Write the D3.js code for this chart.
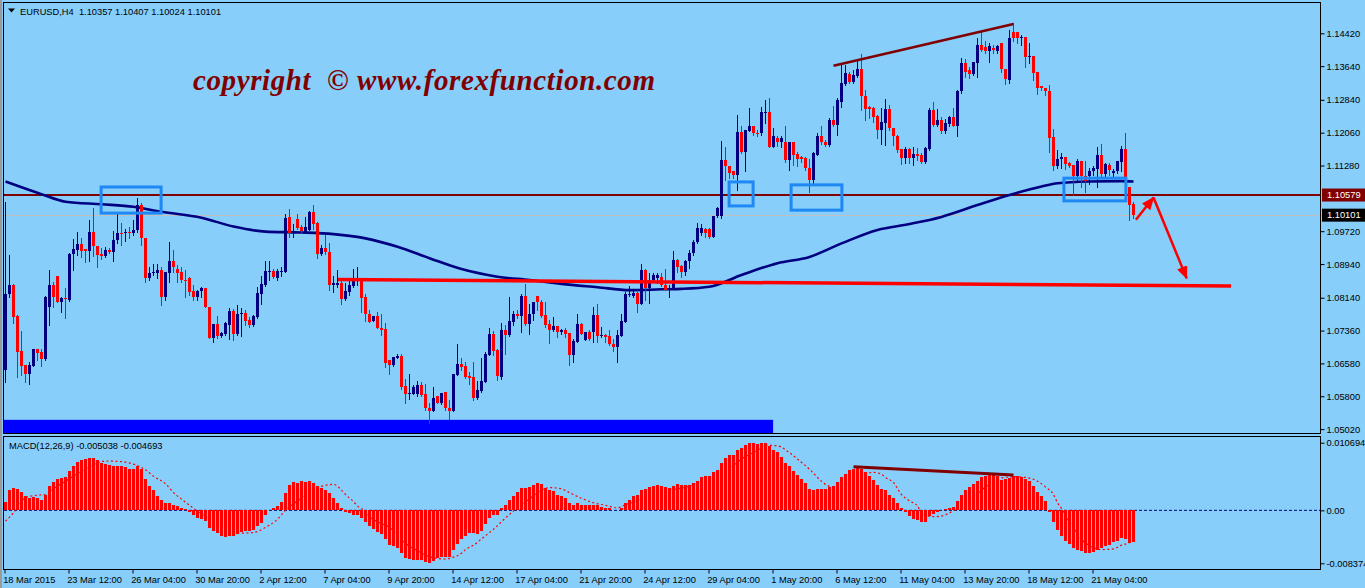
<!DOCTYPE html>
<html><head><meta charset="utf-8">
<script src="https://cdn.jsdelivr.net/npm/d3@7"></script>
<style>html,body{margin:0;padding:0;background:#87CEFA;overflow:hidden}svg{display:block}</style>
</head><body><svg id="c" width="1365" height="588"></svg>
<script>
// ---------------- DATA ----------------
const opens=[1.0642,1.0824,1.0844,1.0771,1.0687,1.0654,1.0632,1.0652,1.0692,1.0685,
1.0668,1.0792,1.0844,1.0865,1.0804,1.0814,1.0808,1.0919,1.0927,1.0941,
1.0929,1.0925,1.0970,1.0936,1.0917,1.0913,1.0927,1.0923,1.0951,1.0968,
1.0967,1.0970,1.0967,1.0974,1.1034,1.0956,1.0861,1.0872,1.0872,1.0879,
1.0816,1.0873,1.0901,1.0883,1.0875,1.0857,1.0861,1.0830,1.0816,1.0830,
1.0837,1.0792,1.0719,1.0751,1.0723,1.0729,1.0750,1.0782,1.0727,1.0775,
1.0778,1.0761,1.0749,1.0769,1.0824,1.0844,1.0875,1.0878,1.0862,1.0875,
1.0875,1.1006,1.0967,1.1000,1.0982,1.0970,1.0976,1.1018,1.0992,1.0919,
1.0933,1.0923,1.0844,1.0845,1.0849,1.0812,1.0828,1.0841,1.0857,1.0860,
1.0816,1.0776,1.0759,1.0771,1.0742,1.0739,1.0666,1.0654,1.0671,1.0675,
1.0604,1.0585,1.0586,1.0585,1.0606,1.0585,1.0553,1.0545,1.0580,1.0563,
1.0590,1.0553,1.0545,1.0630,1.0656,1.0651,1.0628,1.0626,1.0576,1.0593,
1.0614,1.0679,1.0727,1.0689,1.0626,1.0738,1.0725,1.0757,1.0775,1.0771,
1.0818,1.0751,1.0775,1.0818,1.0804,1.0772,1.0751,1.0737,1.0746,1.0733,
1.0737,1.0730,1.0679,1.0709,1.0751,1.0713,1.0733,1.0732,1.0772,1.0723,
1.0725,1.0723,1.0705,1.0697,1.0723,1.0757,1.0820,1.0818,1.0826,1.0799,
1.0881,1.0836,1.0856,1.0862,1.0864,1.0844,1.0832,1.0838,1.0903,1.0890,
1.0874,1.0902,1.0920,1.0947,1.0967,1.0977,1.0977,1.0959,1.1007,1.1007,
1.1141,1.1126,1.1114,1.1106,1.1207,1.1161,1.1211,1.1221,1.1205,1.1205,
1.1252,1.1256,1.1173,1.1193,1.1183,1.1185,1.1140,1.1183,1.1156,1.1148,
1.1145,1.1123,1.1094,1.1153,1.1198,1.1185,1.1177,1.1235,1.1225,1.1280,
1.1322,1.1346,1.1326,1.1341,1.1357,1.1293,1.1267,1.1264,1.1246,1.1213,
1.1230,1.1262,1.1217,1.1198,1.1167,1.1147,1.1167,1.1145,1.1156,1.1153,
1.1137,1.1167,1.1259,1.1225,1.1235,1.1209,1.1227,1.1244,1.1222,1.1304,
1.1371,1.1354,1.1346,1.1371,1.1415,1.1409,1.1399,1.1408,1.1401,1.1419,
1.1357,1.1331,1.1446,1.1445,1.1430,1.1434,1.1385,1.1388,1.1349,1.1316,
1.1313,1.1304,1.1195,1.1128,1.1143,1.1149,1.1133,1.1129,1.1103,1.1139,
1.1103,1.1102,1.1114,1.1120,1.1153,1.1108,1.1129,1.1111,1.1114,1.1137,
1.1167,1.1078,1.10357];
const highs=[1.1042,1.0915,1.0846,1.0772,1.0734,1.0655,1.0662,1.0693,1.0693,1.0692,
1.0817,1.0879,1.0852,1.0866,1.0815,1.0836,1.0920,1.0953,1.0969,1.0955,
1.0930,1.0998,1.1028,1.0937,1.0933,1.0935,1.0933,1.0972,1.1014,1.0992,
1.0978,1.0982,1.0998,1.1050,1.1040,1.0957,1.0887,1.0893,1.0893,1.0887,
1.0876,1.0947,1.0927,1.0891,1.0887,1.0879,1.0864,1.0844,1.0832,1.0840,
1.0838,1.0793,1.0752,1.0770,1.0733,1.0757,1.0790,1.0788,1.0796,1.0790,
1.0784,1.0769,1.0774,1.0840,1.0865,1.0902,1.0902,1.0883,1.0882,1.0887,
1.1014,1.1024,1.0990,1.1014,1.0986,1.1006,1.1020,1.1034,1.0994,1.0939,
1.0963,1.0943,1.0865,1.0881,1.0860,1.0848,1.0856,1.0883,1.0886,1.0862,
1.0824,1.0784,1.0771,1.0780,1.0775,1.0753,1.0666,1.0674,1.0681,1.0680,
1.0620,1.0632,1.0606,1.0616,1.0614,1.0610,1.0563,1.0602,1.0580,1.0588,
1.0590,1.0570,1.0633,1.0704,1.0670,1.0662,1.0638,1.0662,1.0617,1.0670,
1.0685,1.0741,1.0734,1.0693,1.0753,1.0749,1.0816,1.0783,1.0784,1.0824,
1.0846,1.0800,1.0804,1.0818,1.0808,1.0804,1.0761,1.0769,1.0748,1.0739,
1.0742,1.0730,1.0717,1.0776,1.0754,1.0733,1.0737,1.0792,1.0799,1.0745,
1.0729,1.0737,1.0717,1.0737,1.0776,1.0828,1.0841,1.0832,1.0832,1.0895,
1.0882,1.0872,1.0872,1.0873,1.0873,1.0883,1.0844,1.0925,1.0907,1.0892,
1.0904,1.0928,1.0951,1.0991,1.0989,1.0979,1.0979,1.1008,1.1030,1.1187,
1.1171,1.1126,1.1114,1.1248,1.1221,1.1213,1.1264,1.1222,1.1213,1.1268,
1.1284,1.1288,1.1217,1.1198,1.1197,1.1222,1.1183,1.1183,1.1159,1.1151,
1.1149,1.1143,1.1161,1.1206,1.1222,1.1189,1.1240,1.1270,1.1288,1.1367,
1.1367,1.1351,1.1355,1.1381,1.1392,1.1308,1.1270,1.1267,1.1248,1.1264,
1.1286,1.1272,1.1217,1.1201,1.1167,1.1173,1.1169,1.1171,1.1169,1.1157,
1.1171,1.1264,1.1278,1.1262,1.1244,1.1238,1.1246,1.1264,1.1308,1.1383,
1.1381,1.1363,1.1375,1.1430,1.1444,1.1423,1.1419,1.1415,1.1415,1.1419,
1.1357,1.1449,1.1466,1.1446,1.1438,1.1434,1.1420,1.1388,1.1351,1.1317,
1.1313,1.1320,1.1214,1.1165,1.1157,1.1149,1.1137,1.1129,1.1143,1.1139,
1.1139,1.1122,1.1127,1.1171,1.1179,1.1135,1.1133,1.1119,1.1139,1.1175,
1.1205,1.1078,1.10407];
const lows=[1.0614,1.0816,1.0754,1.0626,1.0630,1.0614,1.0610,1.0651,1.0667,1.0652,
1.0667,1.0749,1.0792,1.0803,1.0780,1.0765,1.0807,1.0879,1.0915,1.0910,
1.0899,1.0902,1.0913,1.0887,1.0907,1.0910,1.0921,1.0902,1.0943,1.0939,
1.0948,1.0955,1.0963,1.0970,1.0939,1.0852,1.0856,1.0868,1.0861,1.0796,
1.0808,1.0852,1.0875,1.0852,1.0852,1.0816,1.0820,1.0808,1.0808,1.0816,
1.0791,1.0718,1.0709,1.0719,1.0721,1.0725,1.0717,1.0713,1.0725,1.0723,
1.0749,1.0745,1.0746,1.0767,1.0800,1.0843,1.0857,1.0860,1.0857,1.0865,
1.0874,1.0959,1.0959,1.0978,1.0970,1.0967,1.0974,1.0978,1.0909,1.0915,
1.0919,1.0832,1.0828,1.0840,1.0800,1.0808,1.0820,1.0840,1.0844,1.0780,
1.0759,1.0757,1.0759,1.0741,1.0725,1.0650,1.0634,1.0653,1.0670,1.0598,
1.0564,1.0574,1.0585,1.0580,1.0580,1.0548,1.0517,1.0545,1.0563,1.0561,
1.0548,1.0527,1.0545,1.0630,1.0642,1.0624,1.0610,1.0570,1.0574,1.0590,
1.0614,1.0679,1.0677,1.0618,1.0622,1.0680,1.0723,1.0750,1.0765,1.0733,
1.0749,1.0729,1.0761,1.0784,1.0769,1.0745,1.0707,1.0735,1.0721,1.0729,
1.0721,1.0655,1.0662,1.0709,1.0727,1.0713,1.0713,1.0709,1.0709,1.0721,
1.0709,1.0701,1.0687,1.0662,1.0723,1.0757,1.0818,1.0816,1.0780,1.0799,
1.0808,1.0802,1.0852,1.0848,1.0842,1.0832,1.0816,1.0838,1.0875,1.0864,
1.0868,1.0884,1.0916,1.0943,1.0963,1.0959,1.0955,1.0959,1.1005,1.1003,
1.1094,1.1098,1.1098,1.1069,1.1157,1.1114,1.1209,1.1201,1.1199,1.1201,
1.1229,1.1173,1.1173,1.1175,1.1173,1.1137,1.1118,1.1129,1.1127,1.1137,
1.1118,1.1064,1.1082,1.1153,1.1179,1.1175,1.1175,1.1222,1.1201,1.1267,
1.1320,1.1324,1.1324,1.1339,1.1260,1.1236,1.1240,1.1232,1.1193,1.1179,
1.1177,1.1213,1.1177,1.1161,1.1132,1.1133,1.1135,1.1129,1.1141,1.1133,
1.1133,1.1165,1.1222,1.1221,1.1205,1.1205,1.1221,1.1221,1.1198,1.1300,
1.1339,1.1335,1.1343,1.1339,1.1399,1.1395,1.1373,1.1395,1.1395,1.1349,
1.1321,1.1325,1.1423,1.1419,1.1415,1.1363,1.1371,1.1330,1.1298,1.1308,
1.1296,1.1161,1.1118,1.1122,1.1122,1.1119,1.1124,1.1058,1.1091,1.1076,
1.1066,1.1083,1.1106,1.1078,1.1103,1.1103,1.1106,1.1103,1.1110,1.1114,
1.1090,1.0999,1.10024];
const closes=[1.0824,1.0844,1.0769,1.0685,1.0652,1.0632,1.0654,1.0692,1.0683,1.0668,
1.0816,1.0844,1.0816,1.0804,1.0814,1.0810,1.0919,1.0929,1.0941,1.0925,
1.0925,1.0970,1.0936,1.0915,1.0913,1.0927,1.0923,1.0951,1.0967,1.0965,
1.0970,1.0967,1.0976,1.1034,1.0955,1.0861,1.0872,1.0875,1.0879,1.0816,
1.0875,1.0901,1.0887,1.0873,1.0856,1.0856,1.0828,1.0816,1.0830,1.0836,
1.0792,1.0719,1.0751,1.0723,1.0730,1.0754,1.0782,1.0729,1.0775,1.0778,
1.0759,1.0749,1.0770,1.0826,1.0846,1.0878,1.0878,1.0864,1.0878,1.0878,
1.1004,1.0967,1.0970,1.0980,1.0972,1.0982,1.1018,1.0990,1.0919,1.0933,
1.0923,1.0844,1.0848,1.0848,1.0812,1.0830,1.0844,1.0860,1.0862,1.0814,
1.0776,1.0757,1.0771,1.0741,1.0737,1.0660,1.0654,1.0673,1.0675,1.0602,
1.0585,1.0588,1.0601,1.0606,1.0582,1.0552,1.0545,1.0577,1.0563,1.0588,
1.0551,1.0545,1.0632,1.0656,1.0650,1.0626,1.0624,1.0576,1.0594,1.0616,
1.0680,1.0727,1.0688,1.0628,1.0738,1.0725,1.0758,1.0775,1.0771,1.0818,
1.0751,1.0776,1.0803,1.0804,1.0771,1.0749,1.0738,1.0747,1.0733,1.0737,
1.0729,1.0679,1.0711,1.0751,1.0729,1.0733,1.0715,1.0772,1.0723,1.0725,
1.0721,1.0704,1.0697,1.0725,1.0758,1.0822,1.0824,1.0826,1.0800,1.0881,
1.0836,1.0857,1.0868,1.0868,1.0844,1.0832,1.0838,1.0903,1.0887,1.0874,
1.0902,1.0920,1.0947,1.0979,1.0979,1.0967,1.0959,1.1007,1.1027,1.1141,
1.1126,1.1111,1.1106,1.1207,1.1159,1.1213,1.1221,1.1205,1.1203,1.1256,
1.1256,1.1173,1.1198,1.1185,1.1193,1.1140,1.1183,1.1153,1.1143,1.1143,
1.1122,1.1094,1.1157,1.1198,1.1183,1.1177,1.1235,1.1225,1.1284,1.1324,
1.1347,1.1326,1.1343,1.1357,1.1292,1.1262,1.1262,1.1244,1.1213,1.1232,
1.1262,1.1217,1.1197,1.1165,1.1147,1.1167,1.1145,1.1156,1.1151,1.1137,
1.1169,1.1259,1.1225,1.1235,1.1209,1.1229,1.1244,1.1222,1.1305,1.1371,
1.1351,1.1346,1.1373,1.1415,1.1403,1.1399,1.1411,1.1403,1.1411,1.1357,
1.1333,1.1430,1.1430,1.1430,1.1434,1.1385,1.1388,1.1347,1.1312,1.1312,
1.1304,1.1193,1.1128,1.1143,1.1149,1.1132,1.1128,1.1103,1.1139,1.1102,
1.1092,1.1115,1.1122,1.1153,1.1108,1.1132,1.1118,1.1116,1.1139,1.1167,
1.1094,1.1034,1.10101];

// 200-period moving average, read at sample bars
const maIdx=[0,9,15,24,32,39,49,57,65,74,82,90,98,106,114,123,131,139,148,156,164,169,176,184,193,201,209,218,226,234,243,251,259,263,271,279,282];
const maVal=[1.1090,1.1060,1.1042,1.1036,1.1030,1.1018,1.1004,1.0983,1.0971,1.0969,1.0965,1.0955,1.0935,1.0908,1.0882,1.0864,1.0856,1.0847,1.0839,1.0832,1.0834,1.0835,1.0840,1.0868,1.0896,1.0911,1.0943,1.0975,1.0989,1.1006,1.1034,1.1058,1.1078,1.1086,1.1090,1.1091,1.1090];

// MACD(12,26,9) main histogram, one value per bar
const macd=[0.0013,0.0032,0.0036,0.0034,0.0029,0.0023,0.0019,0.0021,0.0019,0.0017,
0.0025,0.0038,0.0045,0.0049,0.0051,0.0053,0.0062,0.0070,0.0077,0.0079,
0.0081,0.0083,0.0083,0.0080,0.0075,0.0074,0.0072,0.0070,0.0070,0.0070,
0.0069,0.0066,0.0065,0.0070,0.0065,0.0049,0.0038,0.0032,0.0023,0.0016,
0.0011,0.0011,0.0009,0.0007,0.0003,0.0002,-0.0003,-0.0008,-0.0012,-0.0013,
-0.0017,-0.0028,-0.0033,-0.0036,-0.0040,-0.0042,-0.0040,-0.0040,-0.0037,-0.0034,
-0.0033,-0.0033,-0.0031,-0.0025,-0.0020,-0.0008,0.0000,0.0004,0.0007,0.0013,
0.0028,0.0040,0.0045,0.0044,0.0046,0.0045,0.0046,0.0044,0.0038,0.0036,
0.0032,0.0027,0.0019,0.0011,0.0003,-0.0002,-0.0005,-0.0007,-0.0007,-0.0012,
-0.0018,-0.0025,-0.0030,-0.0034,-0.0038,-0.0046,-0.0055,-0.0057,-0.0060,-0.0067,
-0.0075,-0.0077,-0.0079,-0.0079,-0.0079,-0.0082,-0.008374,-0.0080,-0.0075,-0.0074,
-0.0074,-0.0074,-0.0063,-0.0054,-0.0046,-0.0041,-0.0036,-0.0036,-0.0037,-0.0033,
-0.0022,-0.0012,-0.0007,-0.0007,0.0003,0.0008,0.0016,0.0023,0.0029,0.0035,
0.0035,0.0037,0.0040,0.0043,0.0041,0.0036,0.0032,0.0030,0.0025,0.0023,
0.0019,0.0012,0.0009,0.0011,0.0009,0.0008,0.0008,0.0009,0.0008,0.0006,
0.0004,0.0003,0.0000,0.0000,0.0004,0.0011,0.0017,0.0022,0.0024,0.0032,
0.0033,0.0037,0.0038,0.0040,0.0038,0.0037,0.0036,0.0038,0.0041,0.0040,
0.0040,0.0040,0.0044,0.0047,0.0052,0.0055,0.0055,0.0060,0.0064,0.0075,
0.0082,0.0087,0.0087,0.0096,0.0098,0.0103,0.0106,0.010694,0.0105,0.0107,
0.0107,0.0102,0.0095,0.0092,0.0084,0.0075,0.0070,0.0062,0.0056,0.0049,
0.0043,0.0033,0.0032,0.0033,0.0033,0.0033,0.0037,0.0038,0.0045,0.0053,
0.0058,0.0064,0.0066,0.0070,0.0065,0.0061,0.0054,0.0048,0.0040,0.0033,
0.0032,0.0025,0.0020,0.0011,0.0003,-0.0003,-0.0009,-0.0013,-0.0015,-0.0018,
-0.0018,-0.0009,-0.0006,-0.0002,0.0000,0.0002,0.0004,0.0006,0.0015,0.0025,
0.0032,0.0037,0.0041,0.0047,0.0053,0.0054,0.0058,0.0057,0.0054,0.0048,
0.0049,0.0051,0.0054,0.0054,0.0053,0.0049,0.0046,0.0038,0.0029,0.0023,
0.0015,-0.0003,-0.0018,-0.0031,-0.0041,-0.0048,-0.0054,-0.0060,-0.0062,-0.0064,
-0.0068,-0.0068,-0.0066,-0.0062,-0.0059,-0.0056,-0.0055,-0.0050,-0.0048,-0.0043,
-0.0046,-0.0051,-0.005038];

// MACD signal line, read at sample bars
const sigIdx=[0,2,5,8,10,12,15,19,23,25,29,32,35,37,40,42,45,47,50,52,55,59,62,65,68,70,73,76,79,82,84,85,87,88,90,91,93,96,98,100,103,105,108,110,112,114,115,117,120,122,124,127,129,131,134,136,139,141,144,147,150,153,155,158,161,164,168,171,174,178,181,184,188,190,193,196,198,201,204,205,207,210,212,215,217,219,220,222,224,226,228,229,232,234,236,239,242,245,248,252,255,258,260,262,263,264,265,267,269,271,274,277,279,281,282];
const sigVal=[-0.0017,-0.0004,0.0020,0.0024,0.0025,0.0034,0.0046,0.0062,0.0075,0.0078,0.0077,0.0073,0.0064,0.0054,0.0042,0.0028,0.0013,0.0003,-0.0010,-0.0018,-0.0029,-0.0036,-0.0035,-0.0027,-0.0014,0.0000,0.0015,0.0030,0.0038,0.0041,0.0032,0.0025,0.0014,0.0007,-0.0002,-0.0010,-0.0018,-0.0027,-0.0039,-0.0052,-0.0064,-0.0071,-0.0076,-0.0077,-0.0074,-0.0068,-0.0062,-0.0055,-0.0040,-0.0030,-0.0018,-0.0001,0.0008,0.0018,0.0032,0.0036,0.0034,0.0028,0.0019,0.0012,0.0008,0.0004,0.0009,0.0015,0.0023,0.0031,0.0034,0.0038,0.0044,0.0052,0.0065,0.0081,0.0095,0.0103,0.0102,0.0091,0.0081,0.0065,0.0046,0.0041,0.0037,0.0040,0.0048,0.0058,0.0060,0.0057,0.0052,0.0044,0.0025,0.0015,0.0007,-0.0004,-0.0010,-0.0009,-0.0004,0.0008,0.0020,0.0037,0.0050,0.0053,0.0052,0.0046,0.0037,0.0025,0.0012,0.0003,-0.0008,-0.0028,-0.0046,-0.0056,-0.0062,-0.0061,-0.0055,-0.0051,-0.004693];

const timeLabels=["18 Mar 2015","23 Mar 12:00","26 Mar 04:00","30 Mar 20:00","2 Apr 12:00","7 Apr 04:00","9 Apr 20:00","14 Apr 12:00","17 Apr 04:00","21 Apr 20:00","24 Apr 12:00","29 Apr 04:00","1 May 20:00","6 May 12:00","11 May 04:00","13 May 20:00","18 May 12:00","21 May 04:00"];
const priceTicks=[1.1442,1.1364,1.1284,1.1206,1.1128,1.0972,1.0894,1.0814,1.0736,1.0658,1.0580,1.0502];
const macdTicks=[0.010694,0,-0.008374];

// annotations (bar index / price)
const levelPrice=1.10579, bidPrice=1.10101;
const supportLine=[[83.1,1.0857],[306.4,1.0842]];
const resistLine=[[207,1.1365],[252,1.1464]];
const macdDivLine=[[212,0.0069],[252,0.0056]];
const boxes=[[23.9,38.9,1.1077,1.1015],[180.9,186.9,1.1089,1.1032],[196.4,209.1,1.1082,1.1022],[264.6,280.1,1.1098,1.1044]];
const arrowPts=[[282.6,1.0999],[287,1.1052],[295.3,1.0860]];
const blueStrip=[-0.4,191.9,1.0524,1.0491];

// ---------------- DRAW ----------------
const svg=d3.select('#c');
const x=d3.scaleLinear().domain([0,282]).range([5.5,1133.5]);
const y=d3.scaleLinear().domain([1.0502,1.1442]).range([429.1,33.3]);
const ym=d3.scaleLinear().domain([-0.008374,0.010694]).range([563.3,442.7]);
const FONT='"Liberation Sans", Arial, sans-serif';
const NAVY='#000080', RED='#FF0000', MAROON='#800000';

svg.append('rect').attr('width',1365).attr('height',588).attr('fill','#87CEFA');
svg.append('rect').attr('x',0).attr('y',0).attr('width',2).attr('height',588).attr('fill','#9a9a9a');

const defs=svg.append('defs');
defs.append('clipPath').attr('id','mainClip').append('rect').attr('x',4).attr('y',3).attr('width',1317).attr('height',430);
defs.append('marker').attr('id','arr').attr('viewBox','0 0 12 10').attr('refX',11).attr('refY',5)
  .attr('markerWidth',13).attr('markerHeight',11).attr('markerUnits','userSpaceOnUse').attr('orient','auto')
  .append('path').attr('d','M0,0 L12,5 L0,10 Z').attr('fill',RED);

const main=svg.append('g').attr('clip-path','url(#mainClip)');

// blue strip
main.append('rect').attr('x',x(blueStrip[0])).attr('width',x(blueStrip[1])-x(blueStrip[0]))
  .attr('y',y(blueStrip[2])).attr('height',y(blueStrip[3])-y(blueStrip[2])).attr('fill','#0000FF');

// bid line & level line
main.append('line').attr('x1',4).attr('x2',1321).attr('y1',Math.round(y(bidPrice))+0.5).attr('y2',Math.round(y(bidPrice))+0.5).attr('stroke','#C0C0C0').attr('stroke-width',1);
main.append('line').attr('x1',4).attr('x2',1321).attr('y1',y(levelPrice)).attr('y2',y(levelPrice)).attr('stroke',MAROON).attr('stroke-width',2);

// moving average
const maData=maIdx.map((d,i)=>[d,maVal[i]]);
main.append('path').datum(maData).attr('fill','none').attr('stroke',NAVY).attr('stroke-width',2.6)
  .attr('d',d3.line().x(d=>x(d[0])).y(d=>y(d[1])).curve(d3.curveMonotoneX));

// candles
const bars=d3.range(closes.length).map(i=>({i,o:opens[i],h:highs[i],l:lows[i],c:closes[i]}));
const cg=main.append('g').attr('shape-rendering','crispEdges');
cg.selectAll('line.w').data(bars).join('line').attr('class','w')
  .attr('x1',d=>x(d.i)).attr('x2',d=>x(d.i)).attr('y1',d=>y(d.h)).attr('y2',d=>y(d.l)+1)
  .attr('stroke',d=>d.c>d.o?NAVY:RED).attr('stroke-width',1);
cg.selectAll('rect.b').data(bars).join('rect').attr('class','b')
  .attr('x',d=>x(d.i)-1.5).attr('width',3)
  .attr('y',d=>y(Math.max(d.o,d.c))).attr('height',d=>Math.max(1,Math.abs(y(d.o)-y(d.c))))
  .attr('fill',d=>d.c>d.o?NAVY:RED);

// blue boxes
main.selectAll('rect.box').data(boxes).join('rect').attr('class','box')
  .attr('x',d=>x(d[0])).attr('width',d=>x(d[1])-x(d[0])).attr('y',d=>y(d[2])).attr('height',d=>y(d[3])-y(d[2]))
  .attr('fill','none').attr('stroke','#1E88F5').attr('stroke-width',3);

// trend lines
const pl=d3.line().x(d=>x(d[0])).y(d=>y(d[1]));
main.append('path').datum(supportLine).attr('d',pl).attr('stroke',RED).attr('stroke-width',3.5).attr('fill','none');
main.append('path').datum(resistLine).attr('d',pl).attr('stroke',MAROON).attr('stroke-width',2.5).attr('fill','none');
// arrows
main.append('line').attr('x1',x(arrowPts[0][0])).attr('y1',y(arrowPts[0][1])).attr('x2',x(arrowPts[1][0])).attr('y2',y(arrowPts[1][1]))
  .attr('stroke',RED).attr('stroke-width',2.5).attr('marker-end','url(#arr)');
main.append('line').attr('x1',x(arrowPts[1][0])).attr('y1',y(arrowPts[1][1])).attr('x2',x(arrowPts[2][0])).attr('y2',y(arrowPts[2][1]))
  .attr('stroke',RED).attr('stroke-width',2.5).attr('marker-end','url(#arr)');

// copyright
svg.append('text').attr('x',193).attr('y',90).attr('fill',MAROON)
  .attr('font-family','"Liberation Serif","Times New Roman",serif').attr('font-size',29).attr('font-weight','bold').attr('font-style','italic')
  .attr('textLength',462).attr('lengthAdjust','spacing').style('white-space','pre')
  .text('copyright  \u00A9 www.forexfunction.com');

// header
svg.append('path').attr('d','M8,8.5 L15,8.5 L11.5,12.5 Z').attr('fill','#000');
svg.append('text').attr('x',20).attr('y',14.5).attr('font-family',FONT).attr('font-size',9.3).attr('fill','#000')
  .style('white-space','pre').text('EURUSD,H4  1.10357 1.10407 1.10024 1.10101');

// frames
svg.append('rect').attr('x',3.5).attr('y',2.5).attr('width',1317).attr('height',431).attr('fill','none').attr('stroke','#000');
svg.append('rect').attr('x',3.5).attr('y',436.5).attr('width',1317).attr('height',133).attr('fill','none').attr('stroke','#000');

// price axis
const pa=svg.append('g').attr('transform','translate(1320.5,0)')
  .call(d3.axisRight(y).tickValues(priceTicks).tickFormat(d3.format('.5f')).tickSize(4).tickPadding(2).tickSizeOuter(0));
pa.select('.domain').remove();
pa.selectAll('text').attr('font-family',FONT).attr('font-size',9.3).attr('fill','#000');
pa.selectAll('line').attr('stroke','#000');

// price markers
[[levelPrice,MAROON],[bidPrice,'#000']].forEach(([p,c])=>{
  const yy=y(p);
  svg.append('rect').attr('x',1322).attr('y',yy-6.5).attr('width',43).attr('height',13).attr('fill',c);
  svg.append('text').attr('x',1327).attr('y',yy+3.3).attr('font-family',FONT).attr('font-size',9.3).attr('fill','#fff').text(p.toFixed(5));
});

// MACD panel
const mg=svg.append('g');
mg.append('line').attr('x1',4).attr('x2',1321).attr('y1',ym(0)).attr('y2',ym(0)).attr('stroke',NAVY).attr('stroke-width',1).attr('stroke-dasharray','3,2');
mg.append('g').attr('shape-rendering','crispEdges').selectAll('rect').data(macd).join('rect')
  .attr('x',(d,i)=>x(i)-1.5).attr('width',3)
  .attr('y',d=>Math.min(ym(0),ym(d))).attr('height',d=>Math.abs(ym(d)-ym(0)))
  .attr('fill',RED);
const sigData=sigIdx.map((d,i)=>[d,sigVal[i]]);
mg.append('path').datum(sigData).attr('fill','none').attr('stroke',RED).attr('stroke-width',1.2).attr('stroke-dasharray','2,2.5')
  .attr('d',d3.line().x(d=>x(d[0])).y(d=>ym(d[1])).curve(d3.curveMonotoneX));
mg.append('path').datum(macdDivLine).attr('fill','none').attr('stroke',MAROON).attr('stroke-width',3)
  .attr('d',d3.line().x(d=>x(d[0])).y(d=>ym(d[1])));
svg.append('text').attr('x',9).attr('y',448.5).attr('font-family',FONT).attr('font-size',9.3).attr('fill','#000')
  .text('MACD(12,26,9) -0.005038 -0.004693');
const ma=svg.append('g').attr('transform','translate(1320.5,0)')
  .call(d3.axisRight(ym).tickValues(macdTicks).tickFormat(d=>d===0?'0.00':d.toFixed(6)).tickSize(4).tickPadding(2).tickSizeOuter(0));
ma.select('.domain').remove();
ma.selectAll('text').attr('font-family',FONT).attr('font-size',9.3).attr('fill','#000');
ma.selectAll('line').attr('stroke','#000');

// time axis
const tickIdx=timeLabels.map((d,i)=>i*16);
const ta=svg.append('g').attr('transform','translate(-1,569.5)')
  .call(d3.axisBottom(x).tickValues(tickIdx).tickFormat((d,i)=>timeLabels[i]).tickSize(4).tickPadding(3).tickSizeOuter(0));
ta.select('.domain').remove();
ta.selectAll('text').attr('font-family',FONT).attr('font-size',9.3).attr('fill','#000').attr('text-anchor','start').attr('dx','-0.2em');
ta.selectAll('line').attr('stroke','#000');
</script></body></html>
